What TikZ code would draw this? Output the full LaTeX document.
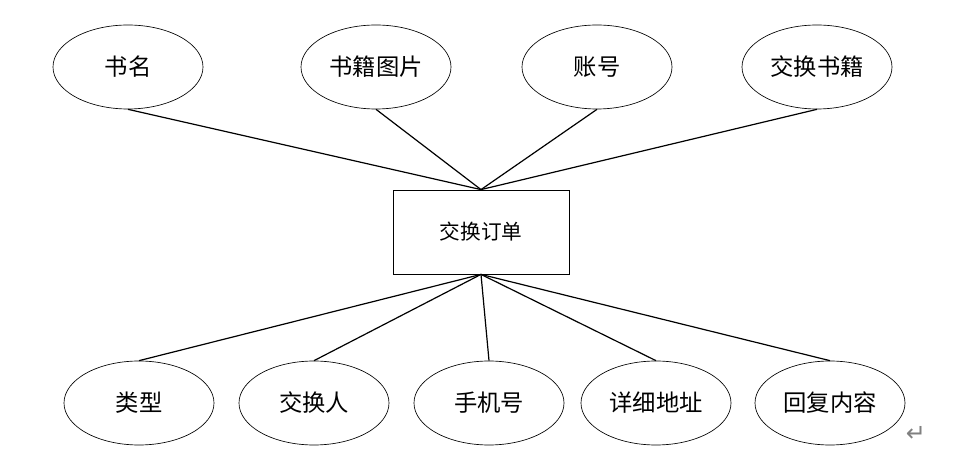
\documentclass[tikz,border=0pt]{standalone}
\usepackage{fontspec}
\setmainfont{Liberation Serif}
\newfontfamily\cjk{Noto Sans CJK SC}
\newfontfamily\dejavu{DejaVu Sans}
\usetikzlibrary{shapes.geometric}
\begin{document}
\begin{tikzpicture}[x=0.75pt,y=-0.75pt,
  attr/.style={draw, ellipse, line width=0.5pt, minimum width=112.5pt, minimum height=63pt, inner sep=0pt, font=\cjk\fontsize{17.5pt}{20pt}\selectfont},
  entity/.style={draw, rectangle, line width=0.6pt, minimum width=132pt, minimum height=63pt, inner sep=0pt, font=\cjk\fontsize{15.5pt}{18pt}\selectfont},
  link/.style={line width=0.9pt}]
\useasboundingbox (0,0) rectangle (953,459);
\node[entity] (order) at (481,232) {交换订单};
\node[attr] (a1) at (128,67) {书名};
\node[attr] (a2) at (376,67) {书籍图片};
\node[attr] (a3) at (597,67) {账号};
\node[attr] (a4) at (817,67) {交换书籍};
\node[attr] (b1) at (139,403) {类型};
\node[attr] (b2) at (314,403) {交换人};
\node[attr] (b3) at (489,403) {手机号};
\node[attr] (b4) at (656,403) {详细地址};
\node[attr] (b5) at (830,403) {回复内容};
\foreach \n in {a1,a2,a3,a4} \draw[link] (\n.south) -- (order.north);
\foreach \n in {b1,b2,b3,b4,b5} \draw[link] (order.south) -- (\n.north);
\node[text=gray, font=\dejavu\fontsize{18pt}{20pt}\selectfont] (ret) at (916,434) {↵};
\end{tikzpicture}
\end{document}
